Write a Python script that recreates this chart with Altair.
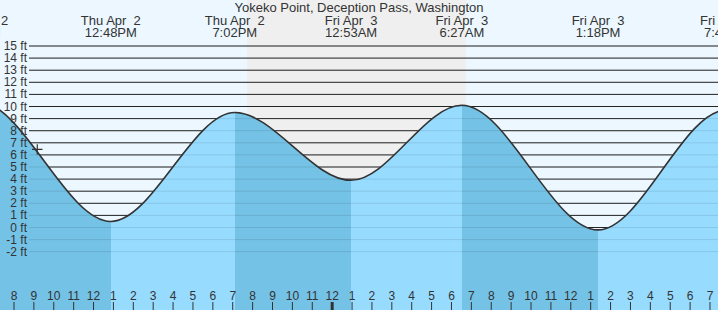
import altair as alt
import pandas as pd

FONT = "Liberation Sans"
TXT = "#333333"

# ---- tide extremes (hours since Thu Apr 2 00:00) and heights (ft) ----
ext_hours = [0.05, 6.13, 12.8, 19.033, 24.883, 30.45, 37.3, 43.75, 49.75]
ext_heights = [3.6, 10.4, 0.5, 9.5, 3.9, 10.1, -0.2, 9.7, 4.3]

# labelled extremes (top of chart)
lab_hours = [6.13, 12.8, 19.033, 24.883, 30.45, 37.3, 43.75]
lab_day = ["Thu Apr\u00a0 2", "Thu Apr\u00a0 2", "Thu Apr\u00a0 2", "Fri Apr\u00a0 3",
           "Fri Apr\u00a0 3", "Fri Apr\u00a0 3", "Fri Apr\u00a0 3"]
lab_time = ["6:08AM", "12:48PM", "7:02PM", "12:53AM", "6:27AM", "1:18PM", "7:45PM"]

# day / night sky
sky_start = [6.0, 19.65, 30.66]
sky_end = [19.65, 30.66, 45.0]
sky_color = ["#ECF7FF", "#EFEFEF", "#ECF7FF"]

# height grid
ft_values = list(range(-2, 16))
ft_labels = [f"{v} ft" for v in ft_values]

# hour axis
hours = list(range(8, 44))
hour_labels = ["8", "9", "10", "11", "12", "1", "2", "3", "4", "5", "6", "7",
               "8", "9", "10", "11", "12", "1", "2", "3", "4", "5", "6", "7",
               "8", "9", "10", "11", "12", "1", "2", "3", "4", "5", "6", "7"]
midnight = [24]

# current time marker
now_hour = [9.1]
now_height = [6.45]

TITLE = "Yokeko Point, Deception Pass, Washington"

LIGHT_WATER = "#97DCFF"
DARK_WATER = "#74C2E6"

Y_MIN, Y_MAX = -6.818, 18.802

tide = pd.DataFrame({"h": ext_hours, "ft": ext_heights})
labs = pd.DataFrame({"h": lab_hours, "day": lab_day, "time": lab_time})
sky = pd.DataFrame({"s": sky_start, "e": sky_end, "c": sky_color})
grid = pd.DataFrame({"ft": ft_values, "label": ft_labels})
hrs = pd.DataFrame({"h": hours, "label": hour_labels})
mid = pd.DataFrame({"h": midnight})
now = pd.DataFrame({"h": now_hour, "ft": now_height})

xs = alt.Scale(domain=[7.2263, 43.332], nice=False, zero=False)
ys = alt.Scale(domain=[Y_MIN, Y_MAX], nice=False, zero=False)

# gradient stops: falling (high->low) dark, rising (low->high) light
h0, h1 = ext_hours[0], ext_hours[-1]
stops = []
for i in range(len(ext_hours) - 1):
    col = LIGHT_WATER if ext_heights[i + 1] > ext_heights[i] else DARK_WATER
    a = (ext_hours[i] - h0) / (h1 - h0)
    b = (ext_hours[i + 1] - h0) / (h1 - h0)
    stops.append(alt.GradientStop(color=col, offset=a))
    stops.append(alt.GradientStop(color=col, offset=b))
grad = alt.Gradient(gradient="linear", stops=stops, x1=0, x2=1, y1=0, y2=0)

X = lambda f: alt.X(f, type="quantitative", scale=xs, axis=None)
Y = lambda f: alt.Y(f, type="quantitative", scale=ys, axis=None)

sky_layer = alt.Chart(sky).mark_rect(clip=True).encode(
    x=X("s"), x2="e", y=alt.value(0), y2=alt.value(310),
    color=alt.Color("c:N", scale=None)
)

grid_dark = alt.Chart(grid).mark_rule(color="#2a2a2a", strokeWidth=1).encode(
    y=Y("ft"), x=alt.value(29), x2=alt.value(718)
)

water = alt.Chart(tide).mark_area(interpolate="monotone", clip=True, color=grad).encode(
    x=X("h"), y=Y("ft"), y2=alt.datum(Y_MIN)
)

grid_faint = alt.Chart(grid).mark_rule(color="#000000", opacity=0.1, strokeWidth=1).encode(
    y=Y("ft"), x=alt.value(29), x2=alt.value(718)
)

curve = alt.Chart(tide).mark_line(interpolate="monotone", clip=True, color="#333333",
                                  strokeWidth=1.6).encode(x=X("h"), y=Y("ft"))

ylabels = alt.Chart(grid).mark_text(align="right", baseline="middle", font=FONT,
                                    fontSize=12, color=TXT).encode(
    y=Y("ft"), x=alt.value(27), text="label:N"
)

ticks = alt.Chart(hrs).mark_rule(color=TXT, strokeWidth=1, xOffset=-1.4).encode(
    x=X("h"), y=alt.value(302), y2=alt.value(310)
)
mid_tick = alt.Chart(mid).mark_rule(color=TXT, strokeWidth=3, xOffset=-1.4).encode(
    x=X("h"), y=alt.value(302), y2=alt.value(310)
)
hlabels = alt.Chart(hrs).mark_text(align="center", baseline="alphabetic", font=FONT,
                                   fontSize=12, color=TXT, dx=-1.4).encode(
    x=X("h"), y=alt.value(300), text="label:N"
)

top1 = alt.Chart(labs).mark_text(align="center", baseline="alphabetic", font=FONT,
                                 fontSize=13, color=TXT).encode(
    x=X("h"), y=alt.value(24.5), text="day:N"
)
top2 = alt.Chart(labs).mark_text(align="center", baseline="alphabetic", font=FONT,
                                 fontSize=13, color=TXT).encode(
    x=X("h"), y=alt.value(36.5), text="time:N"
)
title = alt.Chart(pd.DataFrame({"t": [TITLE]})).mark_text(
    align="center", baseline="alphabetic", font=FONT, fontSize=13, color=TXT
).encode(x=alt.value(359), y=alt.value(12), text="t:N")

marker = alt.Chart(now).mark_point(
    shape="M -1 0 L 1 0 M 0 -1 L 0 1", size=110, filled=False,
    stroke="#333333", strokeWidth=1.2, opacity=1
).encode(x=X("h"), y=Y("ft"))

chart = alt.layer(
    sky_layer, grid_dark, water, grid_faint, curve, ylabels,
    ticks, mid_tick, hlabels, top1, top2, title, marker
).properties(
    width=718, height=310, padding=0, autosize=alt.AutoSizeParams(type="none"),
    background="white"
).configure_view(stroke=None)

chart.save("out.html", embed_options={"renderer": "svg", "actions": False})
